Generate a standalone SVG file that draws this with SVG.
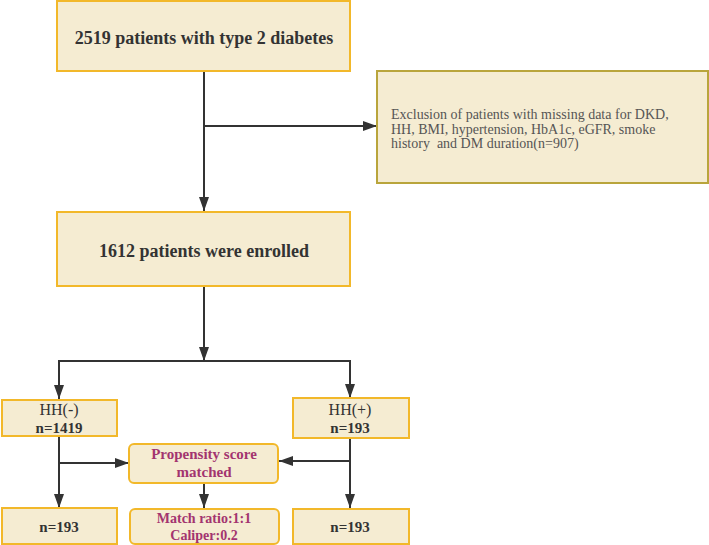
<svg xmlns="http://www.w3.org/2000/svg" width="709" height="545" viewBox="0 0 709 545">
<defs>
<style>
.box{fill:#f5ecd2;stroke:#f2b82a;stroke-width:2}
.exbox{fill:#f5ecd2;stroke:#b9a53c;stroke-width:2}
.t{font-family:"Liberation Serif","Times New Roman",serif;fill:#333;text-anchor:middle}
.b{font-weight:bold}
.p{fill:#a3346f;font-weight:bold}
.ex{font-family:"Liberation Serif","Times New Roman",serif;fill:#555;font-size:14px}
.ln{fill:none;stroke:#333;stroke-width:2}
</style>
<marker id="ah" markerUnits="userSpaceOnUse" viewBox="0 0 14 10" refX="14" refY="5" markerWidth="14" markerHeight="10" orient="auto">
<path d="M0,0 L14,5 L0,10 Z" fill="#333"/>
</marker>
</defs>
<rect width="709" height="545" fill="#fff"/>
<g id="connectors">
<line class="ln" x1="204" y1="71" x2="204" y2="211" marker-end="url(#ah)"/>
<line class="ln" x1="204" y1="126" x2="377" y2="126" marker-end="url(#ah)"/>
<line class="ln" x1="204" y1="286" x2="204" y2="361" marker-end="url(#ah)"/>
<polyline class="ln" points="59,400 59,361 350,361 350,398" marker-end="url(#ah)"/>
<line class="ln" x1="59" y1="361" x2="59" y2="399" marker-end="url(#ah)"/>
<line class="ln" x1="59" y1="436" x2="59" y2="508" marker-end="url(#ah)"/>
<line class="ln" x1="59" y1="463" x2="129" y2="463" marker-end="url(#ah)"/>
<line class="ln" x1="350" y1="438" x2="350" y2="508" marker-end="url(#ah)"/>
<line class="ln" x1="350" y1="461" x2="279" y2="461" marker-end="url(#ah)"/>
<line class="ln" x1="204" y1="483" x2="204" y2="508" marker-end="url(#ah)"/>
</g>
<g id="n_total">
<rect class="box" x="57" y="1" width="293" height="70"/>
<text class="t b" x="204" y="44" font-size="18">2519 patients with type 2 diabetes</text>
</g>
<g id="n_exclusion">
<rect class="exbox" x="377" y="71" width="331" height="112"/>
<text class="ex" x="391" y="119">Exclusion of patients with missing data for DKD,</text>
<text class="ex" x="391" y="134">HH, BMI, hypertension, HbA1c, eGFR, smoke</text>
<text class="ex" x="391" y="148" xml:space="preserve">history  and DM duration(n=907)</text>
</g>
<g id="n_enrolled">
<rect class="box" x="57" y="212" width="293" height="74"/>
<text class="t b" x="204" y="257" font-size="18">1612 patients were enrolled</text>
</g>
<g id="n_hhneg">
<rect class="box" x="2" y="400" width="115" height="36"/>
<text class="t" x="59" y="415" font-size="16">HH(-)</text>
<text class="t b" x="59" y="433" font-size="15">n=1419</text>
</g>
<g id="n_hhpos">
<rect class="box" x="293" y="398" width="116" height="40"/>
<text class="t" x="350" y="415" font-size="16">HH(+)</text>
<text class="t b" x="350" y="433" font-size="15">n=193</text>
</g>
<g id="n_psm">
<rect class="box" x="129" y="444" width="149" height="39" rx="5"/>
<text class="t p" x="204" y="459" font-size="15">Propensity score</text>
<text class="t p" x="204" y="477" font-size="15">matched</text>
</g>
<g id="n_neg193">
<rect class="box" x="2" y="508" width="115" height="36"/>
<text class="t b" x="59" y="532" font-size="15">n=193</text>
</g>
<g id="n_ratio">
<rect class="box" x="130" y="509" width="149" height="35" rx="5"/>
<text class="t p" x="204" y="523" font-size="14">Match ratio:1:1</text>
<text class="t p" x="204" y="540" font-size="14">Caliper:0.2</text>
</g>
<g id="n_pos193">
<rect class="box" x="293" y="509" width="116" height="35"/>
<text class="t b" x="350" y="532" font-size="15">n=193</text>
</g>
</svg>
